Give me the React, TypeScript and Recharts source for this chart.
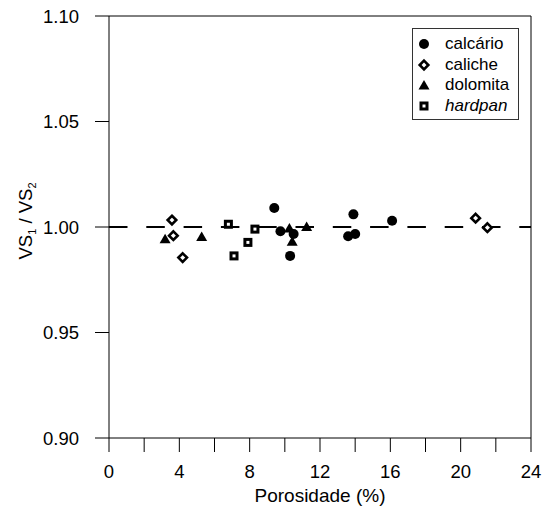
import React from "react";
import {
  ScatterChart,
  Scatter,
  XAxis,
  YAxis,
  ReferenceLine,
  Legend,
} from "recharts";

// porosity (%) vs VS1/VS2 ratio
const calcarioX = [9.4, 9.75, 10.5, 10.3, 13.9, 13.6, 14.0, 16.1];
const calcarioY = [1.009, 0.998, 0.9967, 0.9863, 1.006, 0.9956, 0.9967, 1.003];
const calicheX = [3.58, 3.66, 4.19, 20.85, 21.52];
const calicheY = [1.0033, 0.9959, 0.9855, 1.0042, 0.9997];
const dolomitaX = [3.19, 5.27, 10.26, 10.42, 11.24];
const dolomitaY = [0.9944, 0.9955, 0.9995, 0.9932, 1.0002];
const hardpanX = [6.79, 7.11, 7.9, 8.3];
const hardpanY = [1.0013, 0.9863, 0.9927, 0.999];

const xTicks = [0, 2, 4, 6, 8, 10, 12, 14, 16, 18, 20, 22, 24];
const yTicks = [0.9, 0.95, 1.0, 1.05, 1.1];
const legendNames = ["calcário", "caliche", "dolomita", "hardpan"];

const FONT = "'Liberation Sans', Arial, sans-serif";

const toPoints = (xs: number[], ys: number[]) =>
  xs.map((x, i) => ({ x, y: ys[i] }));

function Circle({ cx, cy }: any) {
  return <circle cx={cx} cy={cy} r={5} fill="#000" />;
}

function Diamond({ cx, cy }: any) {
  const r = 4.3;
  return (
    <polygon
      points={`${cx},${cy - r} ${cx + r},${cy} ${cx},${cy + r} ${cx - r},${cy}`}
      fill="#fff"
      stroke="#000"
      strokeWidth={2.6}
    />
  );
}

function Triangle({ cx, cy }: any) {
  return (
    <polygon
      points={`${cx},${cy - 5} ${cx - 5.5},${cy + 4.5} ${cx + 5.5},${cy + 4.5}`}
      fill="#000"
    />
  );
}

function Square({ cx, cy }: any) {
  return (
    <rect
      x={cx - 3}
      y={cy - 3}
      width={6}
      height={6}
      fill="#fff"
      stroke="#000"
      strokeWidth={3}
    />
  );
}

const shapes = [Circle, Diamond, Triangle, Square];

function LegendBox() {
  return (
    <div
      style={{
        width: 107,
        height: 92,
        boxSizing: "border-box",
        border: "1px solid #333",
        background: "#fff",
        position: "relative",
        fontFamily: FONT,
        fontSize: 17,
        color: "#000",
      }}
    >
      {legendNames.map((name, i) => {
        const Shape = shapes[i];
        return (
          <div
            key={name}
            style={{
              position: "absolute",
              left: 0,
              top: 5 + i * 20.7,
              height: 20,
              width: 105,
              lineHeight: "20px",
            }}
          >
            <svg
              width={14}
              height={14}
              style={{ position: "absolute", left: 4, top: 3 }}
            >
              <Shape cx={7} cy={7} />
            </svg>
            <span
              style={{
                position: "absolute",
                left: 32,
                fontStyle: name === "hardpan" ? "italic" : "normal",
              }}
            >
              {name}
            </span>
          </div>
        );
      })}
    </div>
  );
}

function YLabel() {
  return (
    <text
      transform="translate(32, 221) rotate(-90)"
      textAnchor="middle"
      fontFamily={FONT}
      fontSize={18.5}
      fill="#000"
    >
      VS
      <tspan fontSize={11} dy={4}>
        1
      </tspan>
      <tspan dy={-4}> / VS</tspan>
      <tspan fontSize={11} dy={4}>
        2
      </tspan>
    </text>
  );
}

export default function App() {
  const tickStyle = { fontSize: 18.5, fill: "#000", fontFamily: FONT };
  return (
    <div
      style={{
        position: "absolute",
        left: 0,
        top: 0,
        width: 546,
        height: 511,
        background: "#fff",
      }}
    >
      <ScatterChart
        width={546}
        height={511}
        margin={{ top: 16, right: 15, bottom: 0, left: 0 }}
      >
        <XAxis
          type="number"
          dataKey="x"
          domain={[0, 24]}
          ticks={xTicks}
          interval={0}
          tickFormatter={(v: number) => (v % 4 === 0 ? String(v) : "")}
          tick={tickStyle}
          tickSize={14}
          tickMargin={13}
          height={73}
          stroke="#000"
          label={{
            value: "Porosidade (%)",
            position: "insideBottom",
            offset: 9,
            fontSize: 19,
            fill: "#000",
            fontFamily: FONT,
          }}
        />
        <YAxis
          type="number"
          dataKey="y"
          domain={[0.9, 1.1]}
          ticks={yTicks}
          interval={0}
          tickFormatter={(v: number) => v.toFixed(2)}
          tick={tickStyle}
          tickSize={14}
          tickMargin={16}
          width={109}
          stroke="#000"
          label={<YLabel />}
        />
        <ReferenceLine y={1.1} stroke="#000" strokeWidth={1} />
        <ReferenceLine x={24} stroke="#000" strokeWidth={1} />
        <ReferenceLine
          y={1}
          stroke="#000"
          strokeWidth={2}
          strokeDasharray="18.5 18.8"
        />
        <Scatter
          name="calcário"
          data={toPoints(calcarioX, calcarioY)}
          shape={Circle}
          isAnimationActive={false}
        />
        <Scatter
          name="caliche"
          data={toPoints(calicheX, calicheY)}
          shape={Diamond}
          isAnimationActive={false}
        />
        <Scatter
          name="dolomita"
          data={toPoints(dolomitaX, dolomitaY)}
          shape={Triangle}
          isAnimationActive={false}
        />
        <Scatter
          name="hardpan"
          data={toPoints(hardpanX, hardpanY)}
          shape={Square}
          isAnimationActive={false}
        />
        <Legend
          layout="horizontal"
          verticalAlign="middle"
          align="center"
          wrapperStyle={{ left: 412, top: 28, width: 107, height: 92 }}
          content={() => <LegendBox />}
        />
      </ScatterChart>
    </div>
  );
}
